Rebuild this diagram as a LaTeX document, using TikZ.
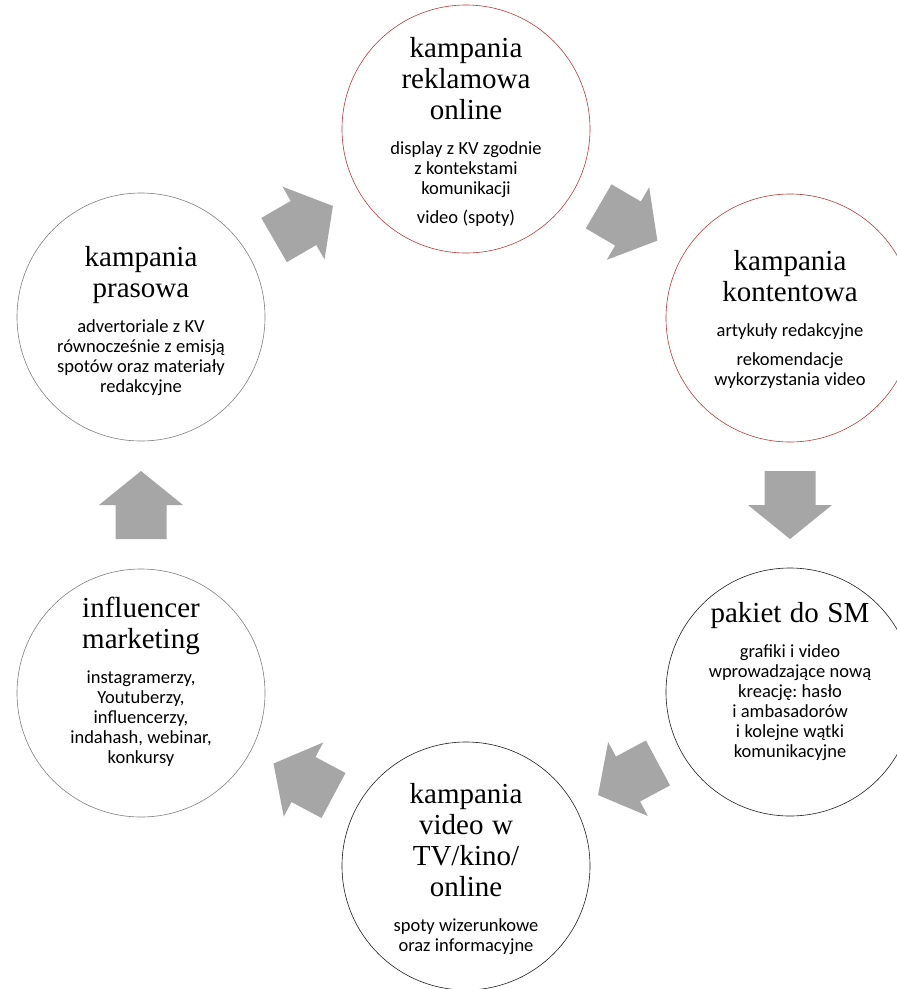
\documentclass[tikz,border=0pt]{standalone}
\usepackage{fontspec}
\setmainfont{Liberation Serif}
\newfontfamily\bodyfont{Carlito}
\usetikzlibrary{calc}
\definecolor{redline}{RGB}{178,60,62}
\definecolor{grayline}{RGB}{128,128,128}
\definecolor{darkline}{RGB}{30,30,30}
\definecolor{arrowgray}{RGB}{166,166,166}
\newcommand{\pg}{\par\vspace{9pt}}
\newcommand{\ctext}[2]{\frenchspacing{\fontsize{29}{31}\selectfont\spaceskip=8.5pt\relax #1\par}\vspace{15pt}{\bodyfont\fontsize{18.5}{20}\selectfont\spaceskip=4.4pt\relax #2\par}}
\newcommand{\cyclearrow}[2]{%
  \path let \p1=($(#2)-(#1)$) in \pgfextra{\pgfmathparse{atan2(\y1,\x1)}\xdef\arrang{\pgfmathresult}};
  \begin{scope}[shift={($(#1)!0.5!(#2)$)}, rotate=\arrang]
    \fill[arrowfill] (-34,-25.5) -- (0,-25.5) -- (0,-42) -- (34,0) -- (0,42) -- (0,25.5) -- (-34,25.5) -- cycle;
  \end{scope}}
\tikzset{
  circ/.style={circle, minimum size=248pt, inner sep=0pt, line width=0.6pt, fill=white},
  txt/.style={text width=250pt, align=center, inner sep=0pt},
  arrowfill/.style={fill=arrowgray}
}
\begin{document}
\begin{tikzpicture}[x=1pt,y=1pt]
\useasboundingbox (0,0) rectangle (897,-989);
\clip (0,0) rectangle (897,-989);
\fill[white] (0,0) rectangle (897,-989);
\node[circ, draw=redline] (c1) at (466,-129) {};
\node[circ, draw=redline] (c2) at (790,-318) {};
\node[circ, draw=darkline] (c3) at (790,-692) {};
\node[circ, draw=darkline] (c4) at (466,-866) {};
\node[circ, draw=grayline] (c5) at (141,-693) {};
\node[circ, draw=grayline] (c6) at (141,-317) {};
\cyclearrow{c6}{c1}
\cyclearrow{c1}{c2}
\cyclearrow{c2}{c3}
\cyclearrow{c3}{c4}
\cyclearrow{c4}{c5}
\cyclearrow{c5}{c6}
\node[txt, yshift=-2.5pt] (t1) at (c1) {\ctext{kampania\\reklamowa\\online}{display z KV zgodnie\\z kontekstami\\komunikacji\pg video (spoty)}};
\node[txt, yshift=-1.5pt] (t2) at (c2) {\ctext{kampania\\kontentowa}{artykuły redakcyjne\pg rekomendacje\\wykorzystania video}};
\node[txt, yshift=10pt] (t3) at (c3) {\ctext{pakiet do SM}{grafiki i video\\wprowadzające nową\\kreację: hasło\\i ambasadorów\\i kolejne wątki\\komunikacyjne}};
\node[txt, yshift=-3.5pt] (t4) at (c4) {\ctext{kampania\\video w\\TV/kino/\\online}{spoty wizerunkowe\\oraz informacyjne}};
\node[txt, yshift=11pt] (t5) at (c5) {\ctext{influencer\\marketing}{instagramerzy,\\Youtuberzy,\\influencerzy,\\indahash, webinar,\\konkursy}};
\node[txt, yshift=-4pt] (t6) at (c6) {\ctext{kampania\\prasowa}{advertoriale z KV\\równocześnie z emisją\\spotów oraz materiały\\redakcyjne}};
\end{tikzpicture}
\end{document}
